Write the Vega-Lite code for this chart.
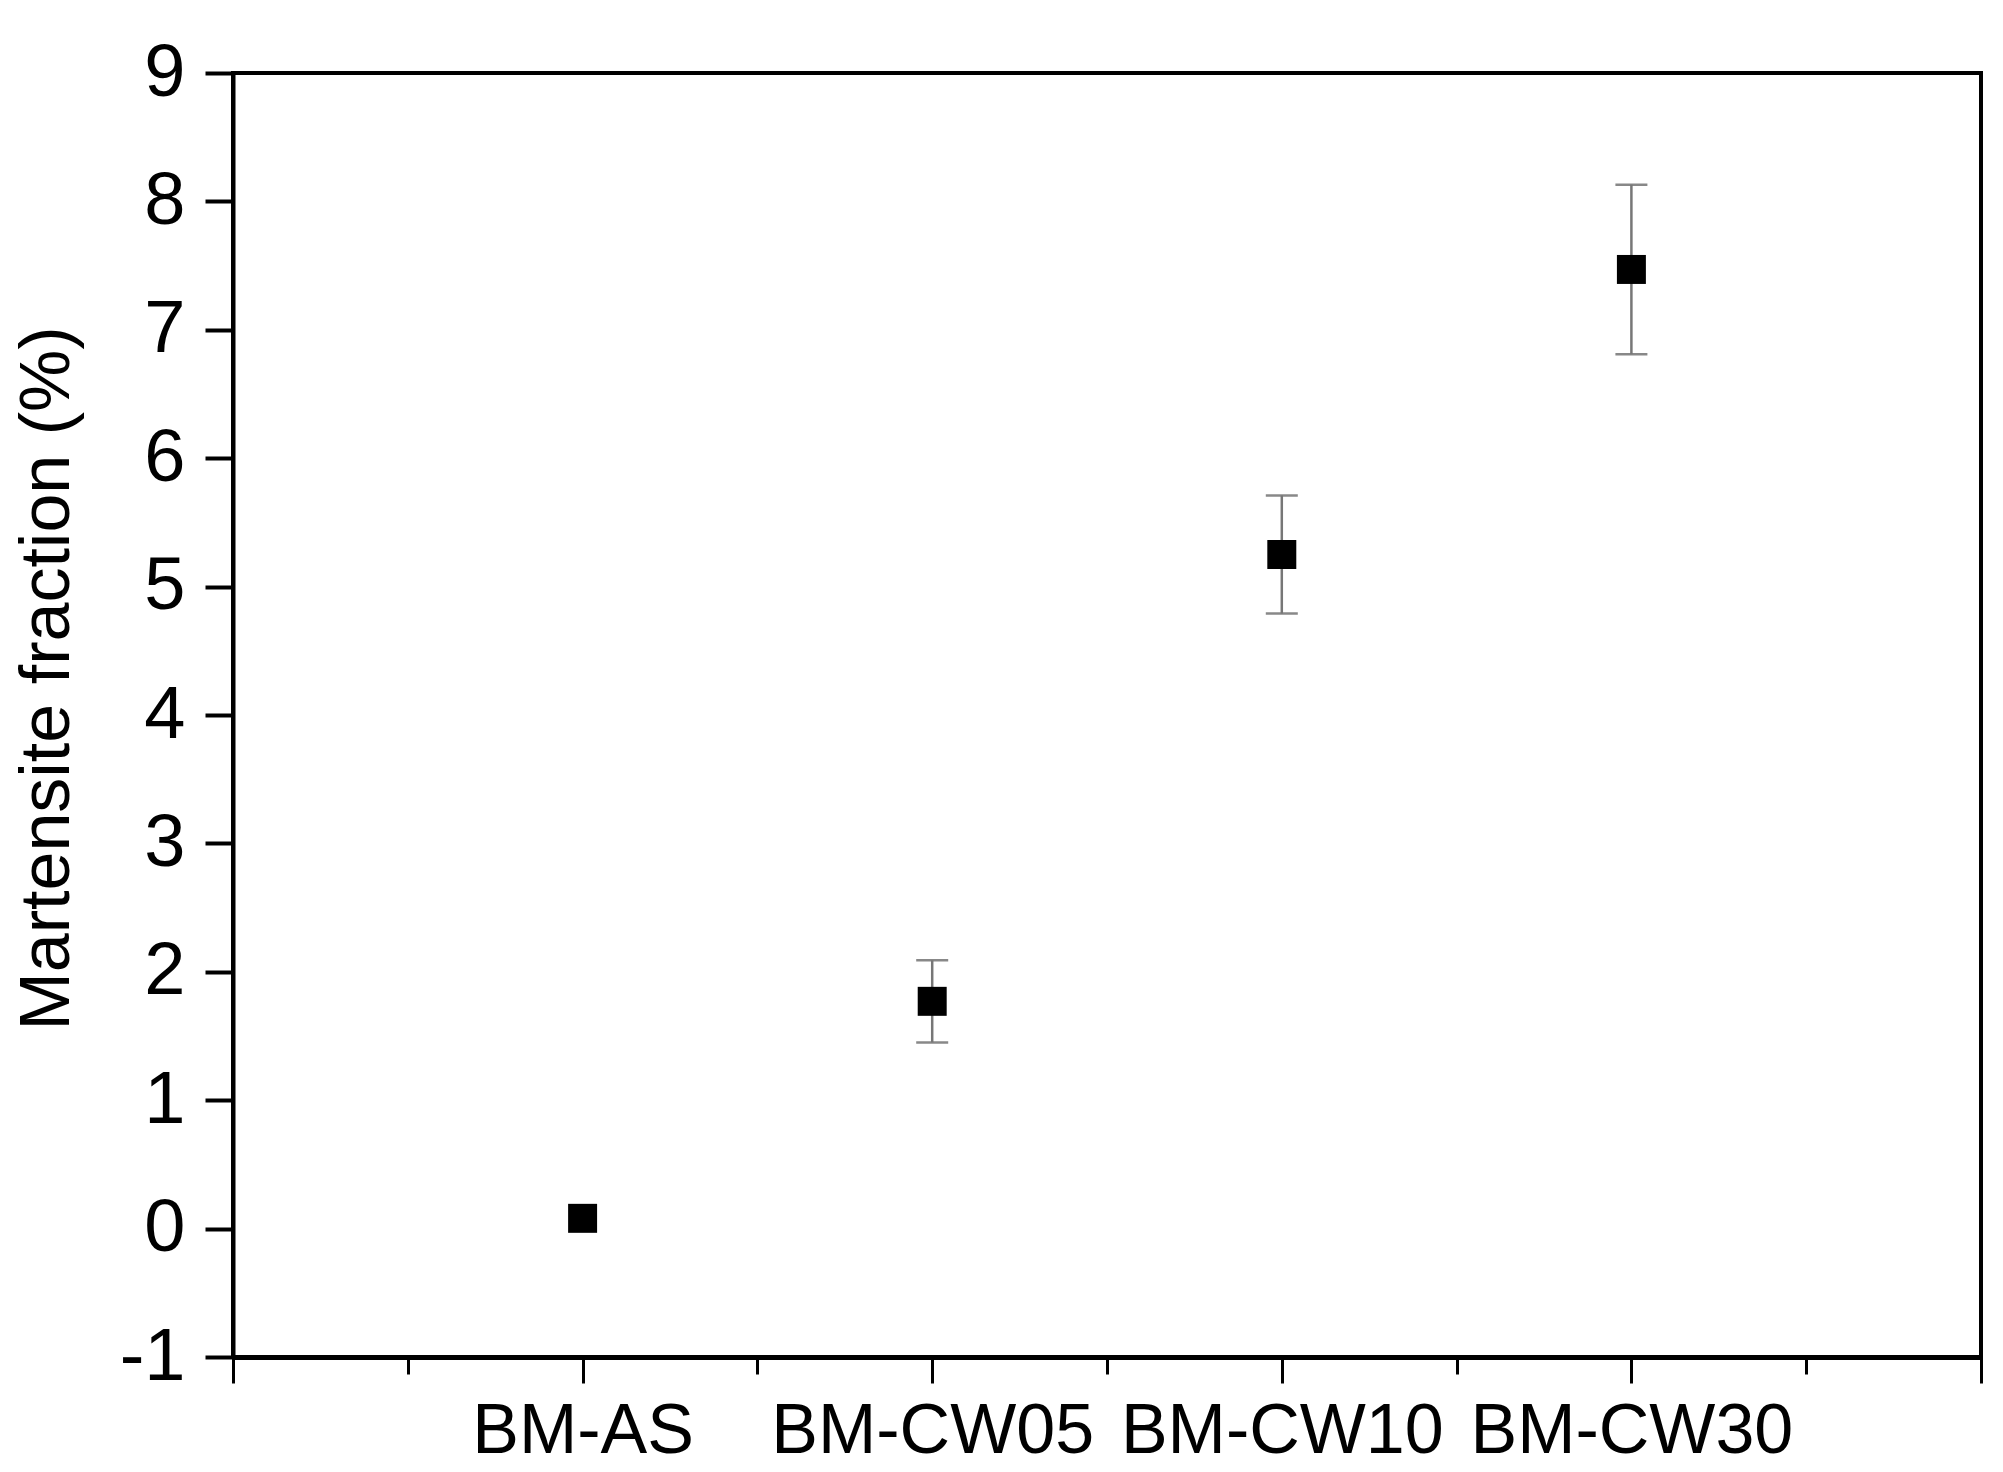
{
  "$schema": "https://vega.github.io/schema/vega-lite/v6.json",
  "width": 1748,
  "height": 1284,
  "autosize": "none",
  "padding": {"left": 233, "top": 73, "right": 22, "bottom": 115},
  "background": "white",
  "config": {
    "view": {"stroke": "black", "strokeWidth": 4},
    "axis": {
      "grid": false,
      "domainColor": "black",
      "tickColor": "black",
      "labelColor": "black",
      "titleColor": "black",
      "labelFont": "Liberation Sans",
      "titleFont": "Liberation Sans",
      "titleFontWeight": "normal"
    }
  },
  "data": {
    "values": [
      {"sample": "BM-AS", "pos": 1, "fraction": 0.08, "lo": null, "hi": null},
      {"sample": "BM-CW05", "pos": 2, "fraction": 1.77, "lo": 1.45, "hi": 2.09},
      {"sample": "BM-CW10", "pos": 3, "fraction": 5.25, "lo": 4.79, "hi": 5.71},
      {"sample": "BM-CW30", "pos": 4, "fraction": 7.47, "lo": 6.81, "hi": 8.13}
    ]
  },
  "layer": [
    {
      "transform": [{"filter": "datum.lo != null"}],
      "mark": {
        "type": "errorbar",
        "ticks": {"size": 32, "thickness": 2.5, "color": "#555555"},
        "rule": {"strokeWidth": 2.5, "color": "#777777"}
      },
      "encoding": {
        "x": {"field": "pos", "type": "quantitative", "title": null, "scale": {"domain": [0, 5]}},
        "y": {"field": "lo", "type": "quantitative", "title": "Martensite fraction (%)", "scale": {"domain": [-1, 9]}},
        "y2": {"field": "hi"}
      }
    },
    {
      "mark": {"type": "point", "shape": "square", "filled": true, "color": "black", "opacity": 1, "size": 840},
      "encoding": {
        "x": {
          "field": "pos",
          "type": "quantitative",
          "title": null,
          "scale": {"domain": [0, 5], "nice": false},
          "axis": {
            "values": [0, 0.5, 1, 1.5, 2, 2.5, 3, 3.5, 4, 4.5, 5],
            "labelExpr": "datum.value == 1 ? 'BM-AS' : datum.value == 2 ? 'BM-CW05' : datum.value == 3 ? 'BM-CW10' : datum.value == 4 ? 'BM-CW30' : ''",
            "labelFontSize": 70,
            "labelPadding": 14,
            "labelLimit": 0,
            "labelFlush": false,
            "labelOverlap": false,
            "domainWidth": 5,
            "tickWidth": 3,
            "tickSize": {"condition": {"test": "datum.value % 1 === 0", "value": 26}, "value": 17}
          }
        },
        "y": {
          "field": "fraction",
          "type": "quantitative",
          "title": "Martensite fraction (%)",
          "scale": {"domain": [-1, 9], "nice": false},
          "axis": {
            "values": [-1, 0, 1, 2, 3, 4, 5, 6, 7, 8, 9],
            "labelExpr": "'' + datum.value",
            "labelFontSize": 74,
            "labelPadding": 20,
            "labelLimit": 0,
            "labelFlush": false,
            "labelOverlap": false,
            "tickSize": 28,
            "tickWidth": 4,
            "domainWidth": 4,
            "titleFontSize": 70,
            "titlePadding": 36,
            "titleY": 605
          }
        }
      }
    }
  ]
}
